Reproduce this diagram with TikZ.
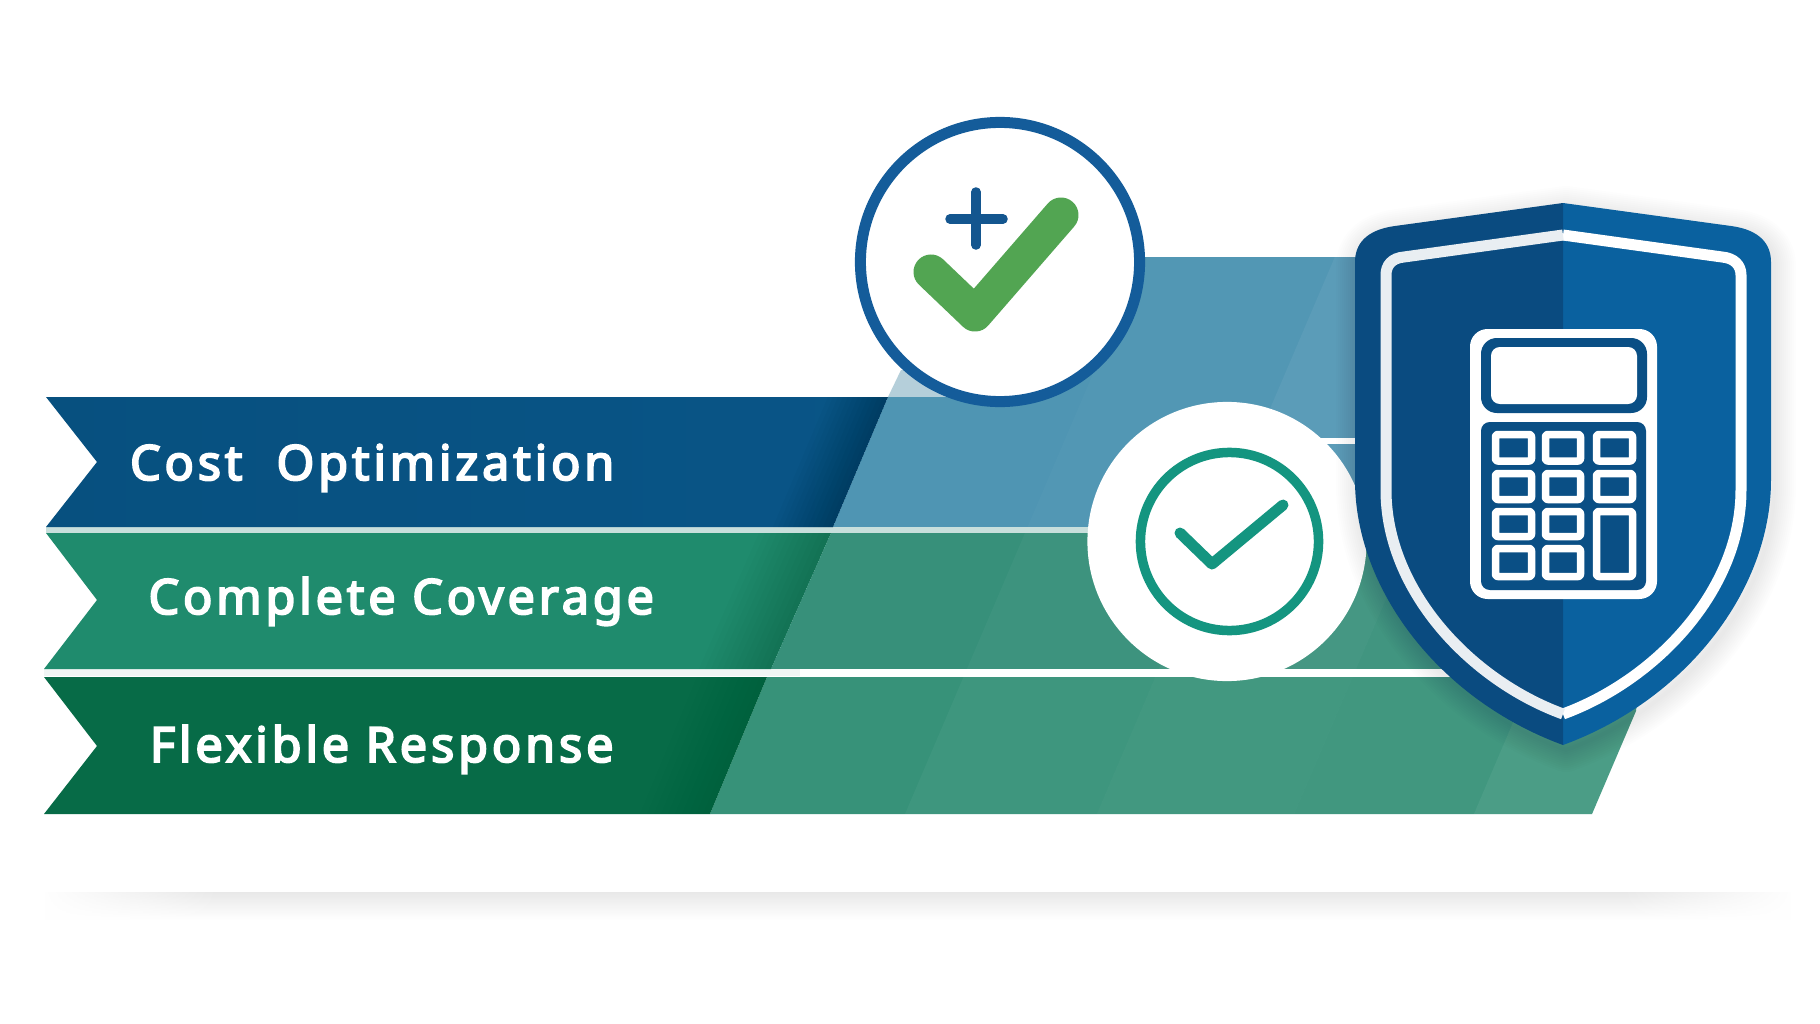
\documentclass[tikz,border=0pt]{standalone}
\usepackage{fontspec}
\usetikzlibrary{fadings}
\newfontfamily\labelfont[LetterSpace=8]{Noto Sans}
\newcommand{\heavy}[1]{\special{pdf:code 2 Tr 0.55 w 1 1 1 RG}#1\special{pdf:code 0 Tr}}
\def\px{0.28453pt}
\definecolor{bandA}{HTML}{07507F}
\definecolor{bandAr}{HTML}{095587}
\definecolor{bandB}{HTML}{1F8B6D}
\definecolor{bandC}{HTML}{076B47}
\definecolor{overA}{HTML}{4F95B3}
\definecolor{overB}{HTML}{37907A}
\definecolor{overC}{HTML}{379279}
\definecolor{sepA}{HTML}{C8DFDC}
\definecolor{sepB}{HTML}{F0F5F4}
\definecolor{wedge}{HTML}{B5CFDA}
\definecolor{ringblue}{HTML}{145C9A}
\definecolor{plusblue}{HTML}{14568F}
\definecolor{checkgreen}{HTML}{52A552}
\definecolor{ringteal}{HTML}{149580}
\definecolor{shieldL}{HTML}{0A4B80}
\definecolor{shieldR}{HTML}{0A619F}
\definecolor{calcdark}{HTML}{0A4F85}
\definecolor{lineL}{HTML}{E9EEF2}
\tikzfading[name=fadeR, left color=transparent!0, right color=transparent!100]
\tikzfading[name=fadeL, left color=transparent!100, right color=transparent!0]
\tikzset{
  bandlabel/.style={anchor=base west, inner sep=0pt, outer sep=0pt, text=white, font=\labelfont\fontsize{13.8pt}{15pt}\selectfont},
  disc/.style={circle, inner sep=0pt, outer sep=0pt, fill=white},
  calckey/.style={draw=white, line width=7.5*\px, fill=calcdark, rounded corners=0.6pt, line join=round},
  stripe/.style={white, fill opacity=#1}
}
\begin{document}
\begin{tikzpicture}[x=0.01cm,y=-0.01cm]
\useasboundingbox (0,0) rectangle (1820,1024);
\fill[white] (0,0) rectangle (1820,1024);

% ground shadow
\shade[top color=black!9, bottom color=white] (45,892) rectangle (1790,920);
\fill[white,path fading=fadeR] (40,888) rectangle (220,924);
\fill[white,path fading=fadeL] (1620,888) rectangle (1795,924);

% translucent right-hand panels
\fill[wedge] (888,397) -- (901,370) -- (965,370) -- (965,397) -- cycle;
\begin{scope}
  \clip (833,527) -- (888,397) -- (950,397) -- (1000,300) -- (1000,257) -- (1560,257) -- (1560,527) -- cycle;
  \fill[overA] (800,250) rectangle (1600,530);
  \foreach \a/\b/\o in {905/1097/0.02,1097/1294/0.07,1294/1474/0.05,1474/1800/0.1}
    \fill[stripe=\o] (\a,814) -- (\b,814) -- ({\b+0.427*557},257) -- ({\a+0.427*557},257) -- cycle;
\end{scope}
\begin{scope}
  \clip (771,669) -- (831,533) -- (1560,533) -- (1560,669) -- cycle;
  \fill[overB] (700,530) rectangle (1600,672);
  \foreach \a/\b/\o in {905/1097/0.03,1097/1294/0.07,1294/1474/0.05,1474/1800/0.1}
    \fill[stripe=\o] (\a,814) -- (\b,814) -- ({\b+0.427*557},257) -- ({\a+0.427*557},257) -- cycle;
\end{scope}
\begin{scope}
  \clip (710,814) -- (767,677) -- (1640,677) -- (1636,711) -- (1592,814) -- cycle;
  \fill[overC] (700,670) rectangle (1700,820);
  \foreach \a/\b/\o in {905/1097/0.04,1097/1294/0.06,1294/1474/0.05,1474/1800/0.1}
    \fill[stripe=\o] (\a,814) -- (\b,814) -- ({\b+0.427*557},257) -- ({\a+0.427*557},257) -- cycle;
\end{scope}

% separators
\fill[sepA] (46,526.5) rectangle (1100,533);
\fill[sepB] (44,669) rectangle (800,676);
\fill[white] (800,669) rectangle (1560,676);
\fill[white] (1320,438) rectangle (1560,444);

% ribbons
\begin{scope}
  \clip (46,397) -- (888,397) -- (833,527) -- (46,527) -- (97,462) -- cycle;
  \shade[left color=bandA, right color=bandAr] (40,390) rectangle (900,530);
  \foreach \i in {1,...,12}
    \fill[black, fill opacity=0.02] (888,397) -- (833,527) -- ({833-\i*5},527) -- ({888-\i*5},397) -- cycle;
\end{scope}
\begin{scope}
  \clip (46,533) -- (831,533) -- (771,669) -- (44,669) -- (97,600) -- cycle;
  \fill[bandB] (40,530) rectangle (840,672);
  \foreach \i in {1,...,12}
    \fill[black, fill opacity=0.012] (831,533) -- (771,669) -- ({771-\i*6},669) -- ({831-\i*6},533) -- cycle;
\end{scope}
\begin{scope}
  \clip (44,677) -- (767,677) -- (710,814) -- (44,814) -- (97,746) -- cycle;
  \fill[bandC] (40,675) rectangle (770,816);
  \foreach \i in {1,...,10}
    \fill[black, fill opacity=0.009] (767,677) -- (710,814) -- ({710-\i*7},814) -- ({767-\i*7},677) -- cycle;
\end{scope}

% labels
\node[bandlabel] (lblcost) at (130,480) {\heavy{Cost\hspace{5pt}\ Optimization}};
\node[bandlabel] (lblcover) at (148.5,614) {\heavy{Complete Coverage}};
\node[bandlabel] (lblflex) at (150,762) {\heavy{Flexible Response}};

% top badge
\node[disc, draw=ringblue, line width=11*\px, minimum size=279*\px] (badgetop) at (1000,262) {};
\draw[plusblue, line width=9.5*\px, line cap=round] (976,192) -- (976,245);
\draw[plusblue, line width=9.5*\px, line cap=round] (950,219) -- (1003,219);
\draw[checkgreen, line width=35*\px, line cap=round, line join=round] (931,272) -- (975,314) -- (1061,215);

% lower badge
\node[disc, minimum size=279*\px] (badgelow) at (1227,541.5) {};
\node[circle, inner sep=0pt, outer sep=0pt, draw=ringteal, line width=9.5*\px, minimum size=178*\px] (ringlow) at (1229.5,541.5) {};
\draw[ringteal, line width=11*\px, line cap=round, line join=round] (1180,533) -- (1212,564) -- (1283,505);

% shield shadow
\foreach \w in {4,8,...,44}
  \draw[black, draw opacity=0.009, line width=\w*\px, line join=round, xshift=3*\px, yshift=-5*\px]
    (1563,203) -- (1395,226) .. controls (1365,230) and (1355,245) .. (1355,262) -- (1355,480)
    .. controls (1355,590) and (1440,700) .. (1563,745)
    .. controls (1686,700) and (1771,590) .. (1771,480) -- (1771,262)
    .. controls (1771,245) and (1761,230) .. (1731,226) -- cycle;

% shield
\fill[shieldR] (1563,203) -- (1731,226) .. controls (1761,230) and (1771,245) .. (1771,262) -- (1771,480)
    .. controls (1771,590) and (1686,700) .. (1563,745) -- cycle;
\fill[shieldL] (1563,203) -- (1395,226) .. controls (1365,230) and (1355,245) .. (1355,262) -- (1355,480)
    .. controls (1355,590) and (1440,700) .. (1563,745) -- cycle;
\draw[white, line width=11*\px, line join=miter]
    (1563,235) -- (1722,257) .. controls (1734,258) and (1741,265) .. (1741,275) -- (1741,490)
    .. controls (1741,590) and (1656,680) .. (1563,714);
\draw[lineL, line width=11*\px, line join=miter]
    (1563,235) -- (1404,257) .. controls (1392,258) and (1386,265) .. (1386,275) -- (1386,490)
    .. controls (1386,590) and (1470,680) .. (1563,714);

% calculator
\fill[white, rounded corners=5pt] (1470,329) rectangle (1657,599);
\fill[calcdark, rounded corners=4.5pt] (1481,338) rectangle (1647,413);
\fill[white, rounded corners=2.5pt] (1491,347) rectangle (1637,404);
\fill[calcdark, rounded corners=2.5pt] (1481,422) rectangle (1646,590);
\foreach \xa/\xb in {1495.5/1531.5,1545.5/1580.5,1596.5/1632.5}
  \foreach \ya/\yb in {434.5/461,473.5/499.5,511.5/536.5}
    \draw[calckey] (\xa,\ya) rectangle (\xb,\yb);
\draw[calckey] (1495.5,548.5) rectangle (1531.5,576.5);
\draw[calckey] (1545.5,548.5) rectangle (1580.5,576.5);
\fill[calcdark] (1590,505) rectangle (1639,542);
\draw[calckey] (1596.5,511.5) rectangle (1632.5,576.5);
\end{tikzpicture}
\end{document}
